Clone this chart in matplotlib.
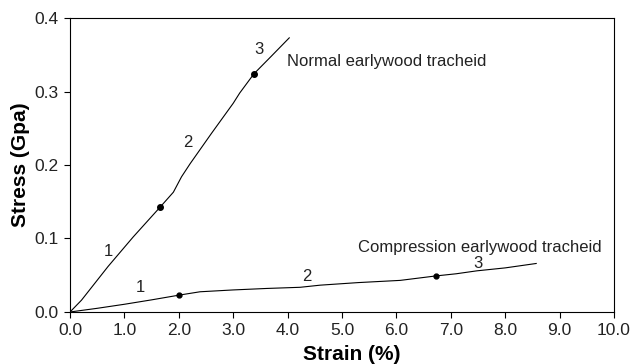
from matplotlib import pyplot as plt

# normal earlywood tracheid curve (strain %, stress GPa)
normal_strain = [0.0, 0.21, 0.7, 1.16, 1.66, 1.9, 2.05, 2.21, 2.6, 3.0, 3.12, 3.38, 3.7, 4.03]
normal_stress = [0.0, 0.016, 0.062, 0.102, 0.143, 0.163, 0.184, 0.202, 0.243, 0.284, 0.298, 0.324, 0.348, 0.373]
normal_dots_x = [1.66, 3.38]
normal_dots_y = [0.143, 0.324]

# compression earlywood tracheid curve
comp_strain = [0.0, 0.5, 1.0, 1.5, 2.01, 2.39, 3.0, 3.61, 4.23, 4.6, 5.3, 6.07, 6.72, 7.1, 7.48, 8.0, 8.57]
comp_stress = [0.0, 0.005, 0.0105, 0.0165, 0.023, 0.0275, 0.030, 0.032, 0.0336, 0.0365, 0.040, 0.043, 0.049, 0.052, 0.056, 0.060, 0.066]
comp_dots_x = [2.01, 6.72]
comp_dots_y = [0.023, 0.049]

# region numbers
normal_nums = ['1', '2', '3']
normal_num_x = [0.70, 2.17, 3.47]
normal_num_y = [0.076, 0.225, 0.3506]
comp_nums = ['1', '2', '3']
comp_num_x = [1.30, 4.36, 7.49]
comp_num_y = [0.0272, 0.0422, 0.0594]

plt.rcParams['font.family'] = ['Liberation Sans', 'DejaVu Sans']

fig = plt.figure(figsize=(6.32, 3.64), dpi=100)
ax = fig.add_axes([0.1108, 0.1429, 0.8607, 0.8076])

ax.plot(normal_strain, normal_stress, color='black', lw=0.8)
ax.plot(normal_dots_x, normal_dots_y, 'o', color='black', ms=4)
ax.plot(comp_strain, comp_stress, color='black', lw=0.8)
ax.plot(comp_dots_x, comp_dots_y, 'o', color='black', ms=3.5)

for t, x, y in zip(normal_nums, normal_num_x, normal_num_y):
    ax.text(x, y, t, fontsize=12, ha='center', va='baseline', color='#222222')
for t, x, y in zip(comp_nums, comp_num_x, comp_num_y):
    ax.text(x, y, t, fontsize=12, ha='center', va='baseline', color='#222222')

ax.text(3.99, 0.3347, 'Normal earlywood tracheid', fontsize=12, va='baseline', color='#222222')
ax.text(5.29, 0.082, 'Compression earlywood tracheid', fontsize=12, va='baseline', color='#222222')

ax.set_xlim(0, 10)
ax.set_ylim(0, 0.4)
ax.set_xticks([i * 1.0 for i in range(11)])
ax.set_xticklabels(['%.1f' % i for i in range(11)])
ax.set_yticks([0.0, 0.1, 0.2, 0.3, 0.4])
ax.set_yticklabels(['0.0', '0.1', '0.2', '0.3', '0.4'])
ax.tick_params(direction='out', length=4, width=0.8, labelsize=12.5, colors='black', labelcolor='#222222')
ax.tick_params(axis='x', pad=4)
ax.tick_params(axis='y', pad=4)
for s in ax.spines.values():
    s.set_linewidth(0.8)

ax.set_xlabel('Strain (%)', fontsize=15, fontweight='bold', labelpad=5)
ax.xaxis.label.set_x(0.517)
ax.set_ylabel('Stress (Gpa)', fontsize=15, fontweight='bold', labelpad=3)

fig.savefig('out.png', dpi=100)
